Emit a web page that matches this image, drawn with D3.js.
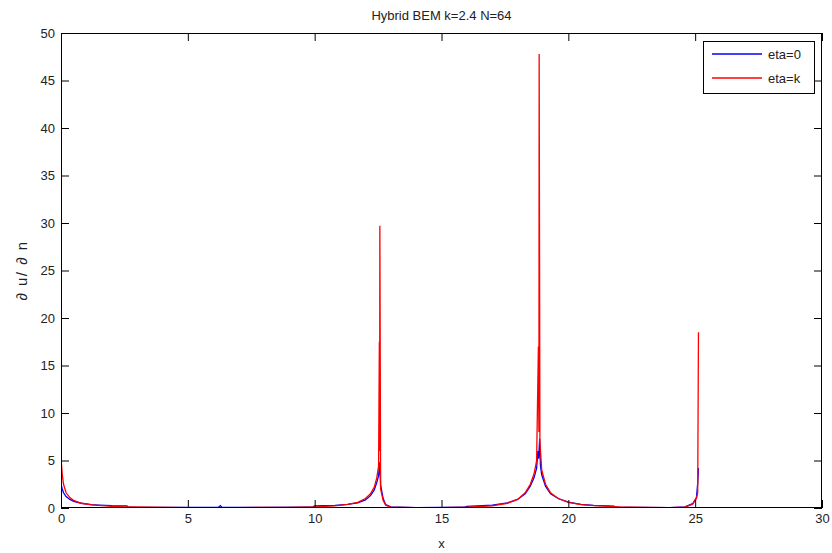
<!DOCTYPE html>
<html>
<head>
<meta charset="utf-8">
<script src="https://cdn.jsdelivr.net/npm/d3@7"></script>
<style>
  html, body { margin: 0; padding: 0; background: #fff; }
  svg text { font-family: Arial, "Liberation Sans", sans-serif; fill: #222; }
</style>
</head>
<body>
<svg id="chart" width="832" height="553"></svg>
<script>
// ---- data ----
const titleText = "Hybrid BEM k=2.4 N=64";
const xLabelText = "x";
const yLabelText = "\u2202 u/ \u2202 n";
const seriesNames = ["eta=0", "eta=k"];
const xTicks = [0, 5, 10, 15, 20, 25, 30];
const yTicks = [0, 5, 10, 15, 20, 25, 30, 35, 40, 45, 50];

const xEta0 = [0, 0.05, 0.1, 0.2, 0.35, 0.5, 0.8, 1.2, 1.5, 2.0, 2.6, 2.65, 3.5, 5.0, 6.2, 6.28, 6.35, 8.0, 9.9, 10.0, 10.8, 11.3, 11.7, 12.0, 12.2, 12.35, 12.45, 12.52, 12.56, 12.6, 12.7, 12.8, 13.0, 14.0, 15.9, 16.0, 17.0, 17.6, 18.0, 18.3, 18.5, 18.65, 18.75, 18.8, 18.83, 18.87, 18.9, 18.95, 19.1, 19.3, 19.6, 20.0, 20.5, 21.0, 21.8, 21.85, 23.0, 24.0, 24.6, 24.9, 25.05, 25.1, 25.13];
const yEta0 = [2.5, 2.0, 1.6, 1.2, 0.9, 0.7, 0.5, 0.35, 0.3, 0.24, 0.22, 0.08, 0.07, 0.06, 0.06, 0.25, 0.06, 0.06, 0.08, 0.22, 0.28, 0.38, 0.55, 0.85, 1.3, 1.9, 2.7, 3.4, 4.8, 2.4, 1.0, 0.35, 0.12, 0.05, 0.08, 0.18, 0.3, 0.55, 0.9, 1.5, 2.3, 3.2, 4.2, 6.0, 5.2, 7.3, 4.5, 3.5, 2.3, 1.5, 1.0, 0.62, 0.38, 0.28, 0.2, 0.1, 0.07, 0.05, 0.12, 0.45, 1.1, 2.6, 4.2];

const xEtak = [0, 0.05, 0.1, 0.2, 0.35, 0.5, 0.8, 1.2, 1.6, 2.0, 2.6, 3.5, 5.0, 7.0, 9.0, 10.0, 10.8, 11.3, 11.7, 12.0, 12.2, 12.35, 12.45, 12.52, 12.55, 12.56, 12.57, 12.6, 12.7, 12.8, 13.0, 14.0, 15.0, 16.0, 17.0, 17.6, 18.0, 18.3, 18.5, 18.65, 18.75, 18.82, 18.84, 18.85, 18.88, 18.95, 19.1, 19.3, 19.6, 20.0, 20.5, 21.0, 22.0, 23.0, 24.0, 24.6, 24.9, 25.05, 25.1, 25.13];
const yEtak = [5.3, 3.5, 2.5, 1.6, 1.1, 0.8, 0.5, 0.32, 0.24, 0.18, 0.12, 0.08, 0.05, 0.05, 0.07, 0.12, 0.22, 0.38, 0.6, 1.0, 1.5, 2.2, 3.2, 4.4, 17.5, 6.0, 29.7, 2.0, 0.8, 0.3, 0.1, 0.04, 0.04, 0.08, 0.22, 0.5, 0.9, 1.6, 2.5, 3.6, 5.0, 17.0, 8.0, 47.8, 7.0, 4.0, 2.5, 1.6, 1.0, 0.6, 0.35, 0.24, 0.12, 0.07, 0.04, 0.1, 0.4, 1.0, 1.6, 18.5];

// ---- layout ----
const svg = d3.select("#chart");
const L = 61, R = 822, T = 33, B = 508;
const x = d3.scaleLinear().domain([0, 30]).range([L, R]);
const y = d3.scaleLinear().domain([0, 50]).range([B, T]);
const tickLen = 8;
const fs = 13;

// title
svg.append("text").attr("x", (L + R) / 2).attr("y", 20).attr("text-anchor", "middle")
  .attr("font-size", fs).text(titleText);

// lines
const clipId = "plotclip";
svg.append("clipPath").attr("id", clipId).append("rect")
  .attr("x", L).attr("y", T).attr("width", R - L).attr("height", B - T);

const line = d3.line().x(d => x(d[0])).y(d => y(d[1]));
const g = svg.append("g").attr("clip-path", `url(#${clipId})`);
g.append("path").datum(d3.zip(xEta0, yEta0)).attr("d", line)
  .attr("fill", "none").attr("stroke", "#0000ff").attr("stroke-width", 1.3);
g.append("path").datum(d3.zip(xEtak, yEtak)).attr("d", line)
  .attr("fill", "none").attr("stroke", "#ff0000").attr("stroke-width", 1.3);

// axes (MATLAB style: box with inward ticks on all sides)
const axB = d3.axisBottom(x).tickValues(xTicks).tickSizeInner(-tickLen).tickSizeOuter(0).tickPadding(6);
const axT = d3.axisTop(x).tickValues(xTicks).tickSizeInner(-tickLen).tickSizeOuter(0).tickFormat("");
const axL = d3.axisLeft(y).tickValues(yTicks).tickSizeInner(-tickLen).tickSizeOuter(0).tickPadding(6);
const axR = d3.axisRight(y).tickValues(yTicks).tickSizeInner(-tickLen).tickSizeOuter(0).tickFormat("");

function style(sel) {
  sel.select(".domain").remove();
  sel.selectAll("line").attr("stroke", "#000");
  sel.selectAll("text").attr("font-size", fs).attr("fill", "#222")
     .style("font-family", 'Arial, "Liberation Sans", sans-serif');
}
svg.append("g").attr("transform", `translate(0,${B})`).call(axB).call(style);
svg.append("g").attr("transform", `translate(0,${T})`).call(axT).call(style);
svg.append("g").attr("transform", `translate(${L},0)`).call(axL).call(style);
svg.append("g").attr("transform", `translate(${R},0)`).call(axR).call(style);

svg.append("rect").attr("x", L + 0.5).attr("y", T + 0.5).attr("width", R - L - 1).attr("height", B - T - 1)
  .attr("fill", "none").attr("stroke", "#000").attr("stroke-width", 1);

// axis labels
svg.append("text").attr("x", (L + R) / 2).attr("y", 548).attr("text-anchor", "middle")
  .attr("font-size", fs).text(xLabelText);
svg.append("text").attr("transform", `translate(27,${(T + B) / 2}) rotate(-90)`)
  .attr("text-anchor", "middle").attr("font-size", 15).attr("letter-spacing", 1.5).text(yLabelText);

// legend
const lg = svg.append("g");
lg.append("rect").attr("x", 703.5).attr("y", 41.5).attr("width", 111).attr("height", 52)
  .attr("fill", "#fff").attr("stroke", "#000");
const colors = ["#0000ff", "#ff0000"];
seriesNames.forEach((n, i) => {
  const yy = 54 + i * 24;
  lg.append("line").attr("x1", 712).attr("x2", 762).attr("y1", yy).attr("y2", yy)
    .attr("stroke", colors[i]).attr("stroke-width", 1.3);
  lg.append("text").attr("x", 768).attr("y", yy + 5).attr("font-size", fs).text(n);
});
</script>
</body>
</html>
